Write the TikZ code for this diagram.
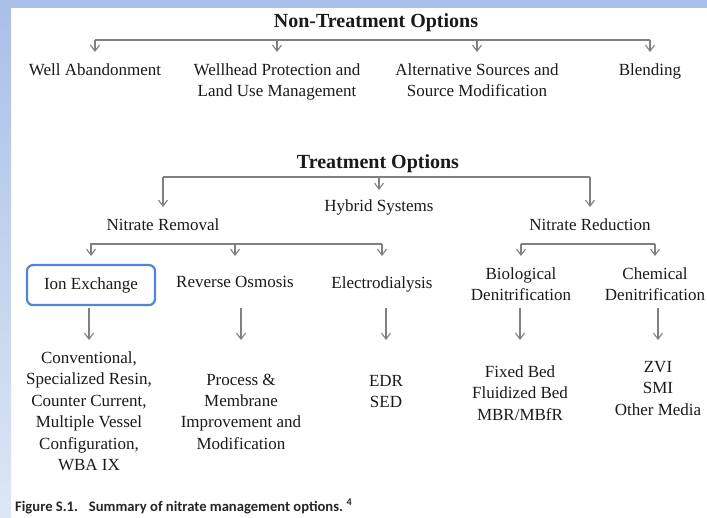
\documentclass[tikz,border=0pt]{standalone}
\usepackage{fontspec}
\setmainfont{Liberation Serif}
\newfontfamily\capfont{Carlito}
\usetikzlibrary{arrows.meta}
\definecolor{band}{HTML}{A9C1E8}
\definecolor{bandlow}{HTML}{DCE6F5}
\definecolor{ln}{HTML}{808080}
\definecolor{txt}{HTML}{1A1A1A}
\definecolor{capcol}{HTML}{262626}
\definecolor{boxblue}{HTML}{4F86D6}
\begin{document}
\begin{tikzpicture}[x=1pt,y=-1pt,
  arr/.style={draw=ln, line width=1.1pt, -{Straight Barb[length=6pt,width=9pt]}},
  bar/.style={draw=ln, line width=1.1pt},
  lbl/.style={font=\fontsize{17}{21.4}\selectfont, text=txt, align=center, inner xsep=1pt, anchor=north},
  ttl/.style={font=\fontsize{20}{24}\selectfont\bfseries, text=txt, inner sep=0pt, anchor=base},
  ibox/.style={draw=boxblue, line width=2.2pt, rounded corners=6pt, minimum width=128pt, minimum height=40pt, font=\fontsize{17}{21.4}\selectfont, text=txt, anchor=north}
]
\useasboundingbox (0,0) rectangle (707,518);
\fill[white] (0,0) rectangle (707,518);
\fill[band] (0,0) rectangle (707,8);
\shade[top color=band, bottom color=bandlow] (0,8) rectangle (11,518);

% ---- Non-treatment options
\node[ttl] (nt) at (376,28) {Non-Treatment Options};
\coordinate (b1l) at (95,40);
\coordinate (b1r) at (650,40);
\draw[bar] (b1l) -- (b1r);
\node[lbl, inner ysep=11.5pt] (wa) at (95,52) {Well Abandonment};
\node[lbl, inner ysep=11.5pt] (wp) at (277,52) {Wellhead Protection and\\Land Use Management};
\node[lbl, inner ysep=11.5pt] (as) at (477,52) {Alternative Sources and\\Source Modification};
\node[lbl, inner ysep=11.5pt] (bl) at (650,52) {Blending};
\foreach \n in {wa,wp,as,bl} \draw[arr] (\n.north |- b1l) -- (\n.north);

% ---- Treatment options
\node[ttl] (tt) at (378,169) {Treatment Options};
\coordinate (b2l) at (163,177);
\coordinate (b2r) at (590,177);
\draw[bar] (b2l) -- (b2r);
\node[lbl, inner ysep=11.5pt] (nrm) at (163,207) {Nitrate Removal};
\node[lbl, inner ysep=9.5pt] (hy) at (379,190) {Hybrid Systems};
\node[lbl, inner ysep=11.5pt] (nrd) at (590,207) {Nitrate Reduction};
\foreach \n in {nrm,hy,nrd} \draw[arr] (\n.north |- b2l) -- (\n.north);

% ---- Nitrate removal branch
\coordinate (b3l) at (90,244);
\coordinate (b3r) at (382,244);
\draw[bar] (b3l) -- (b3r);
\node[ibox] (ie) at (91,264) {Ion Exchange};
\node[lbl, inner ysep=20.5pt] (ro) at (235,256) {Reverse Osmosis};
\node[lbl, inner ysep=20.5pt] (ed) at (382,256) {Electrodialysis};
\draw[arr, shorten >=8pt] (ie.north |- b3l) -- (ie.north);
\draw[arr] (ro.north |- b3l) -- (ro.north);
\draw[arr] (ed.north |- b3l) -- (ed.north);

% ---- Nitrate reduction branch
\coordinate (b4l) at (521,244);
\coordinate (b4r) at (655,244);
\draw[bar] (b4l) -- (b4r);
\node[lbl, inner ysep=11.5pt] (bio) at (521,256) {Biological\\Denitrification};
\node[lbl, inner ysep=11.5pt] (chem) at (655,256) {Chemical\\Denitrification};
\draw[arr] (bio.north |- b4l) -- (bio.north);
\draw[arr] (chem.north |- b4l) -- (chem.north);

% ---- Details
\coordinate (r4) at (0,308);
\node[lbl, inner ysep=11.5pt] (ied) at (89,340) {Conventional,\\Specialized Resin,\\Counter Current,\\Multiple Vessel\\Configuration,\\WBA IX};
\node[lbl, inner ysep=33.5pt] (rod) at (241,340) {Process \&\\Membrane\\Improvement and\\Modification};
\node[lbl, inner ysep=35pt] (edd) at (386,340) {EDR\\SED};
\node[lbl, inner ysep=25.5pt] (biod) at (520,340) {Fixed Bed\\Fluidized Bed\\MBR/MBfR};
\node[lbl, inner ysep=21pt] (chemd) at (658,340) {ZVI\\SMI\\Other Media};
\foreach \n in {ied,rod,edd,biod,chemd} \draw[arr] (\n.north |- r4) -- (\n.north);

% ---- Caption
\node[anchor=base west, inner sep=0pt, text=capcol, font=\capfont\bfseries\fontsize{14.6}{17}\selectfont] (cap) at (15,511)
  {Figure S.1.\hspace{0.45em} Summary of nitrate management options.\hspace{0.25em}\textsuperscript{4}};
\end{tikzpicture}
\end{document}
